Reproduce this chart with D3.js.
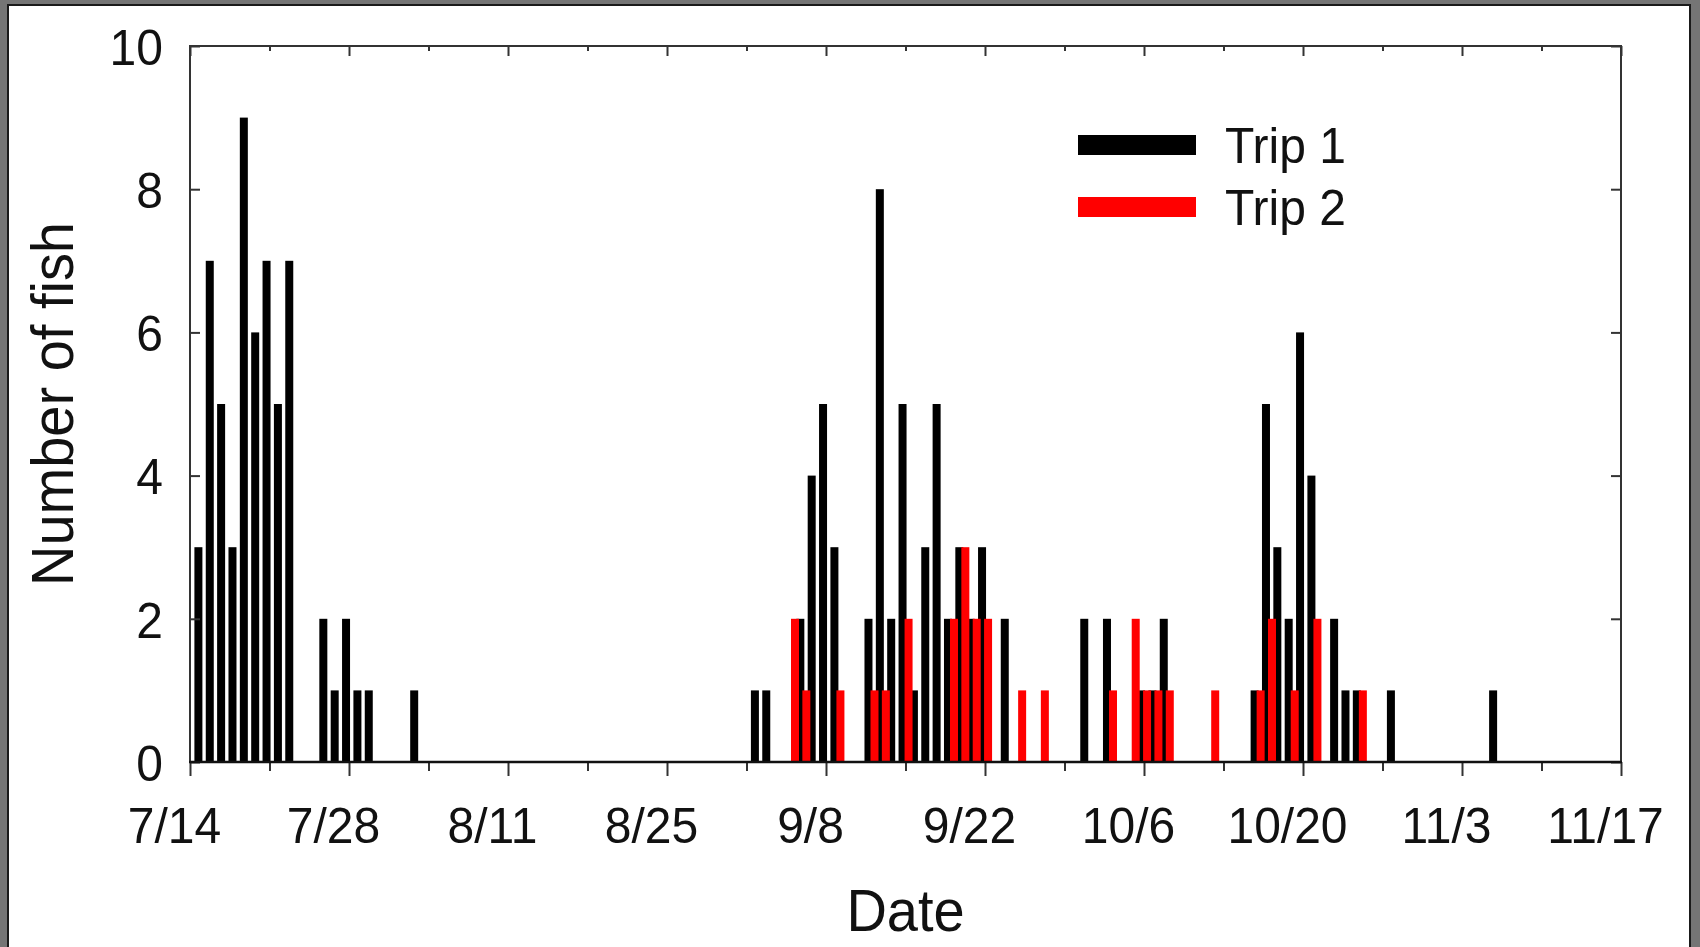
<!DOCTYPE html>
<html>
<head>
<meta charset="utf-8">
<script src="https://cdn.jsdelivr.net/npm/d3@7"></script>
<style>
  html, body { margin: 0; padding: 0; background: #757575; }
  svg { display: block; }
  text { font-family: Arial, "Liberation Sans", sans-serif; fill: #111; }
</style>
</head>
<body>
<svg id="chart" width="1700" height="947"></svg>
<script>
// Daily fish counts, Trip 1
const trip1Dates = ["7/14","7/15","7/16","7/17","7/18","7/19","7/20","7/21","7/22",
  "7/25","7/26","7/27","7/28","7/29","8/2",
  "9/1","9/2","9/5","9/6","9/7","9/8","9/11","9/12","9/13","9/14","9/15","9/16","9/17",
  "9/18","9/19","9/20","9/21","9/23",
  "9/30","10/2","10/5","10/6","10/7",
  "10/15","10/16","10/17","10/18","10/19","10/20","10/22","10/23","10/24","10/27","11/5"];
const trip1Counts = [3,7,5,3,9,6,7,5,7,
  2,1,2,1,1,1,
  1,1,2,4,5,3,2,8,2,5,1,3,5,
  2,3,2,3,2,
  2,2,1,1,2,
  1,5,3,2,6,4,2,1,1,1,1];

// Daily fish counts, Trip 2
const trip2Dates = ["9/5","9/6","9/9","9/12","9/13","9/15","9/19","9/20","9/21","9/22",
  "9/25","9/27","10/3","10/5","10/6","10/7","10/8","10/12",
  "10/16","10/17","10/19","10/21","10/25"];
const trip2Counts = [2,1,1,1,1,2,2,3,2,2,
  1,1,1,2,1,1,1,1,
  1,2,1,2,1];

// Axis labels
const xTickLabels = ["7/14","7/28","8/11","8/25","9/8","9/22","10/6","10/20","11/3","11/17"];
const yTickValues = [0, 2, 4, 6, 8, 10];
const seriesNames = ["Trip 1", "Trip 2"];
const seriesColors = ["#000000", "#ff0000"];

const YEAR = 2013;
const parseMD = s => { const [m, d] = s.split("/").map(Number); return new Date(YEAR, m - 1, d); };

const svg = d3.select("#chart");
const W = 1700, H = 947;

// picture frame
svg.append("rect").attr("x", 0).attr("y", 0).attr("width", W).attr("height", H).attr("fill", "#757575");
svg.append("rect").attr("x", 8).attr("y", 5).attr("width", 1682).attr("height", 960)
  .attr("fill", "#ffffff").attr("stroke", "#1a1a1a").attr("stroke-width", 2);

const plot = { left: 190, right: 1621, top: 46, bottom: 762 };

const majorDates = xTickLabels.map(parseMD);
const minorDates = majorDates.slice(0, -1).map(d => d3.timeDay.offset(d, 7));

const x = d3.scaleTime()
  .domain([majorDates[0], majorDates[majorDates.length - 1]])
  .range([plot.left, plot.right]);
const y = d3.scaleLinear().domain([0, 10]).range([plot.bottom, plot.top]);

const dayW = x(d3.timeDay.offset(majorDates[0], 1)) - x(majorDates[0]);
const barW = 8;

const TEXT_SY = 1.06;

// bars: Trip 1 first, Trip 2 drawn over it
const series = [
  { dates: trip1Dates, counts: trip1Counts, color: seriesColors[0], shift: 0.74 },
  { dates: trip2Dates, counts: trip2Counts, color: seriesColors[1], shift: 0.27 }
];
series.forEach(s => {
  const rows = s.dates.map((d, i) => ({ date: parseMD(d), n: s.counts[i] }));
  svg.append("g").selectAll("rect").data(rows).join("rect")
    .attr("x", r => x(r.date) + s.shift * dayW - barW / 2)
    .attr("y", r => y(r.n))
    .attr("width", barW)
    .attr("height", r => y(0) - y(r.n))
    .attr("fill", s.color);
});

// axes
function styleAxis(g) {
  g.select(".domain").remove();
  g.selectAll(".tick line").attr("stroke", "#333").attr("stroke-width", 2);
}

// bottom: major ticks with labels, minor ticks without
svg.append("g").attr("transform", `translate(0,${plot.bottom})`)
  .call(d3.axisBottom(x).tickValues(minorDates).tickSize(9).tickFormat(""))
  .call(styleAxis);
const xAxisG = svg.append("g").attr("transform", `translate(0,${plot.bottom})`)
  .call(d3.axisBottom(x).tickValues(majorDates).tickSize(14)
    .tickFormat((d, i) => xTickLabels[i]))
  .call(styleAxis);
xAxisG.selectAll(".tick text")
  .attr("font-size", 48).attr("fill", "#111")
  .attr("font-family", "Arial, 'Liberation Sans', sans-serif")
  .attr("y", 0).attr("dy", 0)
  .attr("transform", `translate(-16, 81) scale(1, ${TEXT_SY})`);

// top: inward ticks
svg.append("g").attr("transform", `translate(0,${plot.top})`)
  .call(d3.axisTop(x).tickValues(minorDates).tickSize(-5).tickFormat(""))
  .call(styleAxis);
svg.append("g").attr("transform", `translate(0,${plot.top})`)
  .call(d3.axisTop(x).tickValues(majorDates).tickSize(-10).tickFormat(""))
  .call(styleAxis);

// left: inward ticks with labels
const yAxisG = svg.append("g").attr("transform", `translate(${plot.left},0)`)
  .call(d3.axisLeft(y).tickValues(yTickValues).tickSize(-10).tickPadding(27))
  .call(styleAxis);
yAxisG.selectAll(".tick text")
  .attr("font-size", 48).attr("fill", "#111")
  .attr("font-family", "Arial, 'Liberation Sans', sans-serif")
  .attr("x", -27).attr("dy", "0.36em")
  .attr("transform", `scale(1, ${TEXT_SY})`);

// right: inward ticks
svg.append("g").attr("transform", `translate(${plot.right},0)`)
  .call(d3.axisRight(y).tickValues(yTickValues).tickSize(-10).tickFormat(""))
  .call(styleAxis);

// plot frame
svg.append("rect")
  .attr("x", plot.left).attr("y", plot.top)
  .attr("width", plot.right - plot.left).attr("height", plot.bottom - plot.top)
  .attr("fill", "none").attr("stroke", "#333").attr("stroke-width", 2);
svg.append("line")
  .attr("x1", plot.left - 1).attr("x2", plot.right + 1)
  .attr("y1", plot.bottom).attr("y2", plot.bottom)
  .attr("stroke", "#111").attr("stroke-width", 2.5);

// axis titles
svg.append("text")
  .attr("transform", `translate(${(plot.left + plot.right) / 2}, 931) scale(1, ${TEXT_SY})`)
  .attr("text-anchor", "middle").attr("font-size", 56)
  .text("Date");
svg.append("text")
  .attr("transform", `translate(73, ${(plot.top + plot.bottom) / 2}) rotate(-90) scale(1, ${TEXT_SY})`)
  .attr("text-anchor", "middle").attr("font-size", 56)
  .text("Number of fish");

// legend
const legend = svg.append("g");
seriesNames.forEach((name, i) => {
  const top = 135 + i * 62;
  legend.append("rect")
    .attr("x", 1078).attr("y", top).attr("width", 118).attr("height", 20)
    .attr("fill", seriesColors[i]);
  legend.append("text")
    .attr("transform", `translate(1225, ${top + 28}) scale(1, ${TEXT_SY})`)
    .attr("font-size", 48)
    .text(name);
});
</script>
</body>
</html>
